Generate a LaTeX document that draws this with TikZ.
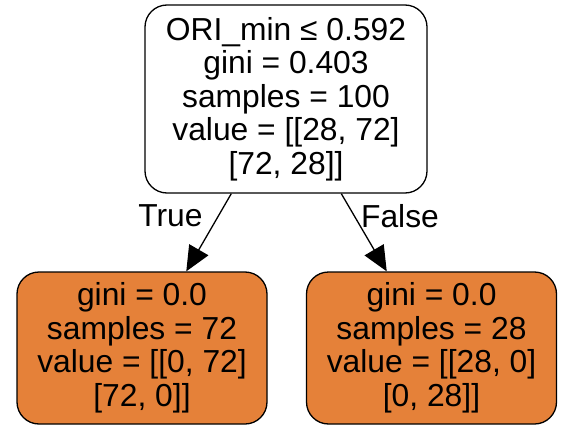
\documentclass[tikz,border=0pt]{standalone}
\usepackage{fontspec}
\setmainfont{Liberation Sans}
\usepackage{tikz}
\usetikzlibrary{arrows.meta}
\definecolor{leafcol}{HTML}{E58139}

\begin{document}
\begin{tikzpicture}[x=1pt,y=-1pt,
		box/.style={draw=black,line width=1.3pt,rounded corners=22pt,inner sep=0pt,align=center,
			font=\fontsize{31.8}{33.5}\selectfont},
		leaf/.style={box,fill=leafcol,minimum width=250pt,minimum height=152pt},
		edge/.style={line width=1.3pt,-{Triangle[length=25pt,width=22pt]}},
		lab/.style={inner sep=0pt,font=\fontsize{31.8}{33.5}\selectfont}]
			\useasboundingbox (0,0) rectangle (573,436);
			
			% split
			
			\node[box,fill=white,minimum width=282pt,minimum height=188pt] (N0) at (286,99)
				{ORI\_min ≤ 0.592\\gini = 0.403\\samples = 100\\value = [[28, 72]\\{}[72, 28]]};
			
			% leaves
			
			\node[leaf] (N1) at (142,348) {gini = 0.0\\samples = 72\\value = [[0, 72]\\{}[72, 0]]};
			\node[leaf] (N2) at (431.5,348) {gini = 0.0\\samples = 28\\value = [[28, 0]\\{}[0, 28]]};
			
			\draw[edge] (N0) -- node[lab,pos=0.29,left=15pt] {True} (N1);
			\draw[edge] (N0) -- node[lab,pos=0.29,right=6pt] {False} (N2);
		\end{tikzpicture}
\end{document}
